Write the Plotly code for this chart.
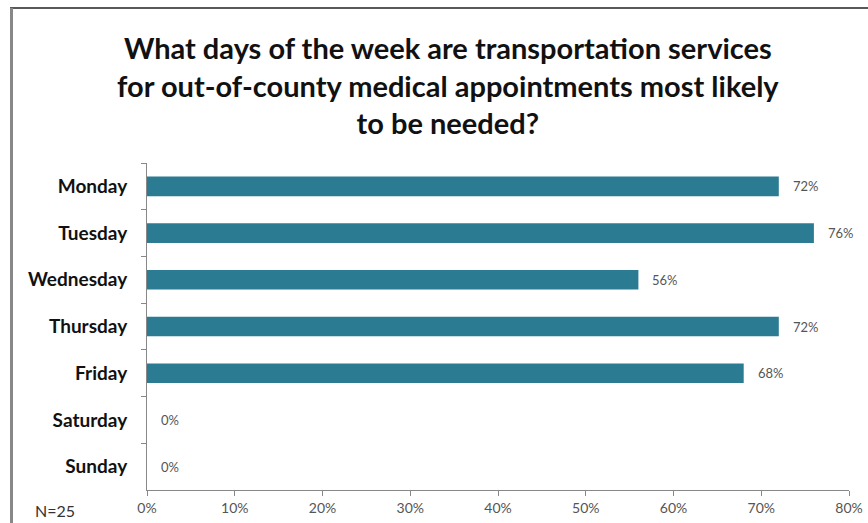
import plotly.graph_objects as go

days = ["Monday", "Tuesday", "Wednesday", "Thursday", "Friday", "Saturday", "Sunday"]
values = [72, 76, 56, 72, 68, 0, 0]
x_ticks = [0, 10, 20, 30, 40, 50, 60, 70, 80]
x_tick_labels = [f"{v}%" for v in x_ticks]
title_text = ("What days of the week are transportation services<br>"
              "for out-of-county medical appointments most likely<br>"
              "to be needed?")
note_text = "N=25"

BAR = "#2B7C92"
FONT = "Lato, 'Open Sans', sans-serif"

fig = go.Figure()
fig.add_trace(go.Bar(
    y=days, x=values, orientation="h",
    marker=dict(color=BAR, line=dict(width=0)),
    width=0.42, hoverinfo="skip",
))

annotations = []
for d, v in zip(days, values):
    annotations.append(dict(
        x=v, y=d, xref="x", yref="y", text=f"{v}%", showarrow=False,
        xanchor="left", yanchor="middle", xshift=12,
        font=dict(family=FONT, size=13, color="#555555"),
    ))

annotations.append(dict(
    x=(448 - 147) / 702, y=(490 - 85) / 327, xref="paper", yref="paper", text=title_text,
    showarrow=False, xanchor="center", yanchor="middle",
    font=dict(family=FONT, size=29, color="#111111", weight="bold"),
    align="center",
))
annotations.append(dict(
    x=(33 - 147) / 702, y=(490 - 522) / 327, xref="paper", yref="paper", text=note_text,
    showarrow=False, xanchor="left", yanchor="bottom",
    font=dict(family=FONT, size=16, color="#333333"),
))

shapes = [
    dict(type="line", xref="paper", yref="paper",
         x0=(10 - 147) / 702, x1=1.05, y0=(490 - 8) / 327, y1=(490 - 8) / 327,
         line=dict(color="#222222", width=1.5)),
    dict(type="line", xref="paper", yref="paper",
         x0=(11.5 - 147) / 702, x1=(11.5 - 147) / 702, y0=(490 - 8) / 327, y1=-0.2,
         line=dict(color="#888888", width=3)),
]

fig.update_layout(
    width=868, height=523,
    margin=dict(l=147, r=19, t=163, b=33),
    paper_bgcolor="white", plot_bgcolor="white",
    showlegend=False,
    annotations=annotations, shapes=shapes,
    font=dict(family=FONT),
    xaxis=dict(
        range=[0, 80], tickvals=x_ticks, ticktext=x_tick_labels,
        showgrid=False, zeroline=False, automargin=False,
        showline=True, linecolor="#888888", linewidth=1,
        ticks="outside", ticklen=5, tickcolor="#888888",
        tickfont=dict(family=FONT, size=14, color="#555555"),
        fixedrange=True,
    ),
    yaxis=dict(
        categoryorder="array", categoryarray=days, autorange="reversed",
        showgrid=False, zeroline=False, automargin=False,
        showline=True, linecolor="#888888", linewidth=1,
        ticks="outside", ticklen=5, tickcolor="#888888", tickson="boundaries",
        tickfont=dict(family=FONT, size=19, color="#111111", weight="bold"),
        ticklabelstandoff=15,
        fixedrange=True,
    ),
)

fig.write_html("out.html")
